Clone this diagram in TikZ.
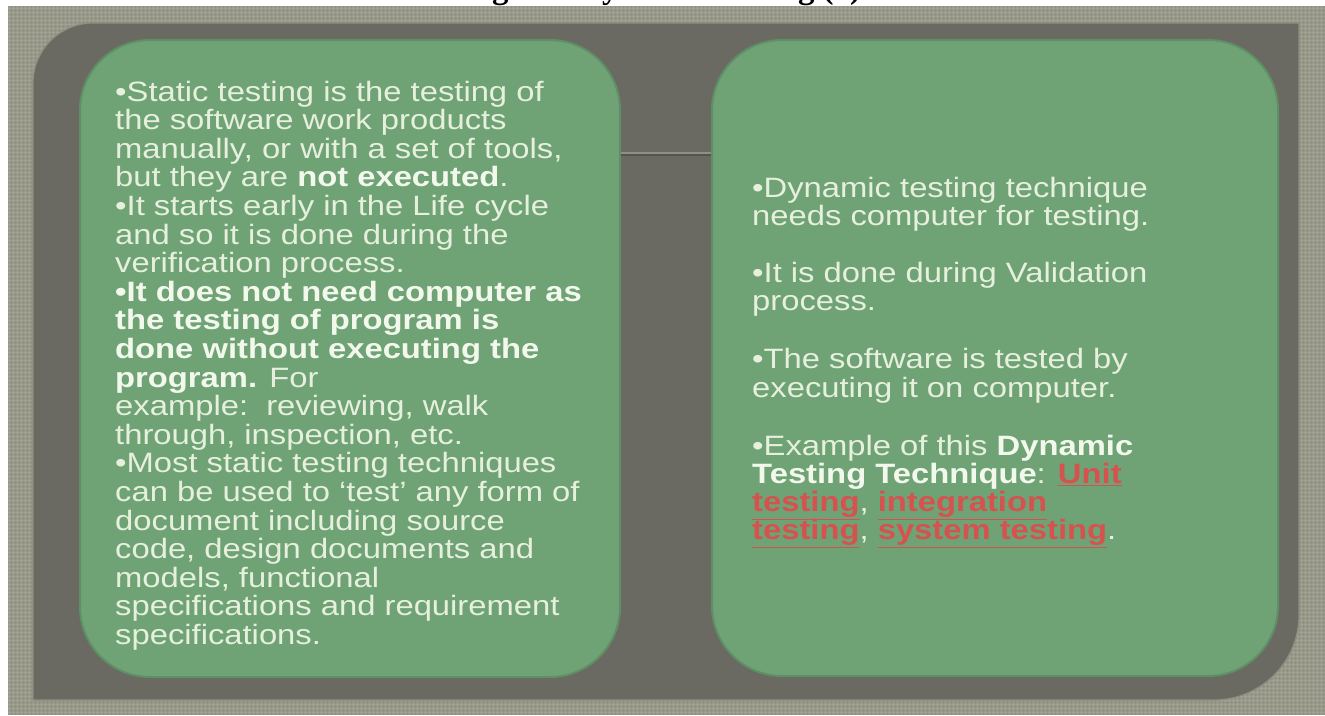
\documentclass[tikz,border=0pt]{standalone}
\usepackage{fontspec}
\newfontfamily\boxfont[FakeStretch=1.17]{Liberation Sans}
\newfontfamily\titlefont{Liberation Serif}
\definecolor{texbg}{HTML}{98988A}
\definecolor{texlight}{HTML}{A9A99A}
\definecolor{texdark}{HTML}{8C8C7E}
\definecolor{panelc}{HTML}{6B6A62}
\definecolor{paneledge}{HTML}{8E8E80}
\definecolor{boxgreen}{HTML}{6FA376}
\definecolor{boxedge}{HTML}{5E8F65}
\definecolor{txtc}{HTML}{E6F0DC}
\definecolor{boldc}{HTML}{F3F8EC}
\definecolor{linkred}{HTML}{D6524E}
\definecolor{connlight}{HTML}{8F8F84}
\definecolor{conndark}{HTML}{55544E}
\newcommand\redlink[1]{\textcolor{linkred}{\underline{\textcolor{linkred}{\textbf{#1}}}}}
\newcommand\bt[1]{\textcolor{boldc}{\textbf{#1}}}
\tikzset{
  greenbox/.style={draw=boxedge, line width=2pt, fill=boxgreen, rounded corners=70pt, inner sep=0pt},
  bodytext/.style={anchor=north west, inner sep=0pt, align=left, text=txtc},
  conn/.style={draw=connlight, line width=1.6pt},
  connshadow/.style={draw=conndark, line width=1.2pt}
}
\begin{document}
\begin{tikzpicture}[x=1pt,y=-1pt]
\useasboundingbox (0,0) rectangle (1325,715);
\fill[white] (0,0) rectangle (1325,715);
% textured background
\fill[texbg] (8,6) rectangle (1325,715);
\foreach \i in {9,13,...,1325} \draw[texlight, line width=0.9pt, opacity=0.6] (\i,6) -- (\i,715);
\foreach \i in {11,15,...,1325} \draw[texdark, line width=0.6pt, opacity=0.5] (\i,6) -- (\i,715);
\foreach \j in {8,12,...,715} \draw[texlight, line width=0.9pt, opacity=0.5] (8,\j) -- (1325,\j);
\foreach \j in {10,14,...,715} \draw[texdark, line width=0.6pt, opacity=0.4] (8,\j) -- (1325,\j);
% clipped title
\begin{scope}
\clip (0,0) rectangle (1325,6);
\node[anchor=base west, inner sep=0pt, font=\titlefont\bfseries\fontsize{33}{33}\selectfont] (title) at (318,-2) {Static Testing and Dynamic Testing (1)};
\end{scope}
% dark panel
\filldraw[fill=panelc, draw=paneledge, line width=1.2pt]
  (33,700) -- (33,83) .. controls (33,49.9) and (59.9,23) .. (93,23)
  -- (1299,23) -- (1299,615) .. controls (1299,661.9) and (1260.9,700) .. (1214,700) -- cycle;
% green boxes
\node[greenbox, minimum width=540pt, minimum height=637pt] (lbox) at (350,358.5) {};
\node[greenbox, minimum width=566pt, minimum height=636pt] (rbox) at (995,358) {};
% connector
\coordinate (cy) at (0,153);
\coordinate (cys) at (0,155);
\draw[connshadow] (lbox.east |- cys) -- (rbox.west |- cys);
\draw[conn] (lbox.east |- cy) -- (rbox.west |- cy);
% texts
\node[bodytext, font=\boxfont\fontsize{28}{28.6}\selectfont] (ltext) at (115,80.6) {%
•Static testing is the testing of\\
the software work products\\
manually, or with a set of tools,\\
but they are \bt{not executed}.\\
•It starts early in the Life cycle\\
and so it is done during the\\
verification process.\\
\bt{•It does not need computer as}\\
\bt{the testing of program is}\\
\bt{done without executing the}\\
\bt{program.} For\\
example:\ \ reviewing, walk\\
through, inspection, etc.\\
•Most static testing techniques\\
can be used to ‘test’ any form of\\
document including source\\
code, design documents and\\
models, functional\\
specifications and requirement\\
specifications.};
\node[bodytext, font=\boxfont\fontsize{28}{28.3}\selectfont] (rtext) at (752,176.8) {%
•Dynamic testing technique\\
needs computer for testing.\\[28.5pt]
•It is done during Validation\\
process.\\[30pt]
•The software is tested by\\
executing it on computer.\\[29.5pt]
•Example of this \bt{Dynamic}\\
\bt{Testing Technique}: \redlink{Unit}\\
\redlink{testing}, \redlink{integration}\\
\redlink{testing}, \redlink{system testing}.};
\end{tikzpicture}
\end{document}
